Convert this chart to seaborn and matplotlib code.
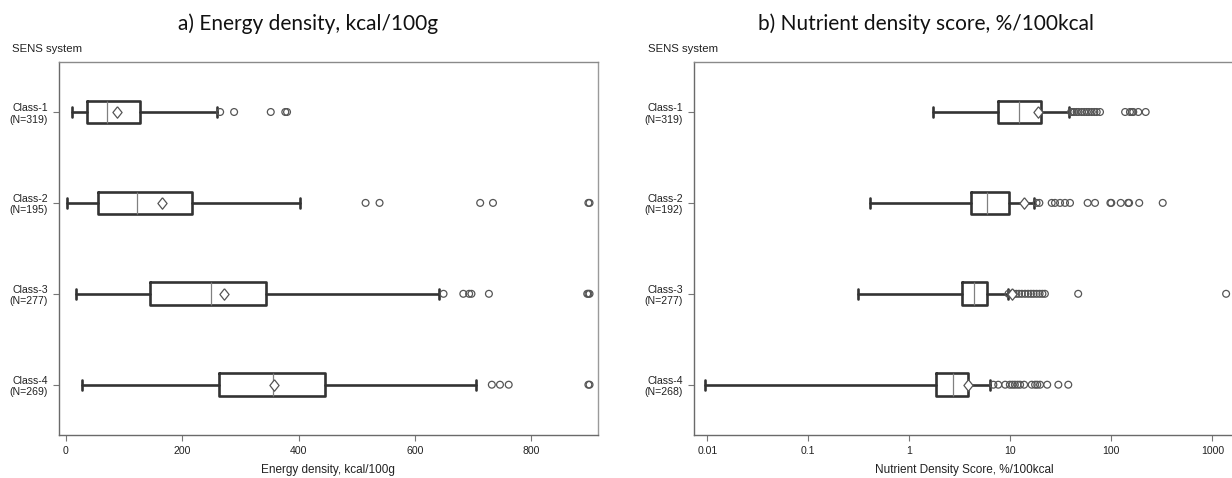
import numpy as np
import pandas as pd
import matplotlib
matplotlib.use("Agg")
import matplotlib.pyplot as plt
import seaborn as sns
from matplotlib.ticker import FixedLocator, NullLocator, FixedFormatter

# ---------------- data ----------------
classes = ["Class-1", "Class-2", "Class-3", "Class-4"]
n_energy = [319, 195, 277, 269]
n_nutrient = [319, 192, 277, 268]

# a) Energy density, kcal/100g
ed_whislo = [11, 1, 18, 27]
ed_q1 = [36, 55, 145, 263]
ed_med = [71, 122, 250, 355]
ed_q3 = [128, 217, 344, 445]
ed_whishi = [259, 402, 642, 705]
ed_mean = [88, 165, 271, 357]
ed_out_c1 = [265, 289, 352, 377, 380]
ed_out_c2 = [515, 539, 712, 734, 898, 900]
ed_out_c3 = [649, 683, 693, 697, 727, 896, 898, 900]
ed_out_c4 = [732, 746, 761, 898, 900]

# b) Nutrient density score, %/100kcal
nd_whislo = [1.7, 0.41, 0.31, 0.0095]
nd_q1 = [7.5, 4.1, 3.3, 1.85]
nd_med = [12.3, 5.9, 4.4, 2.7]
nd_q3 = [20.2, 9.8, 5.9, 3.8]
nd_whishi = [38, 17.2, 9.4, 6.3]
nd_mean = [19, 13.7, 10.4, 3.8]
nd_out_c1 = [40, 41.5, 43, 45.4, 47.5, 50.9, 54, 57.1, 60, 64, 68, 71.7, 77.3,
             137, 153, 160, 165, 185, 219]
nd_out_c2 = [18.2, 19.4, 25.7, 27.7, 31.1, 34.8, 39, 58.3, 69, 98, 100,
             124, 147, 150, 189, 323]
nd_out_c3 = [9.6, 10.2, 10.8, 11.5, 12.2, 13.0, 14.0, 15.0, 16.0, 17.0, 18.2,
             19.5, 20.8, 22.0, 47, 1370]
nd_out_c4 = [6.8, 7.6, 8.9, 9.9, 10.5, 11.1, 11.8, 12.5, 13.7, 16.3, 17.6, 18.5,
             19.7, 23.2, 29.9, 37.5]

ed_ticks = [0, 200, 400, 600, 800]
nd_ticks = [0.01, 0.1, 1, 10, 100, 1000]
nd_ticklabels = ["0.01", "0.1", "1", "10", "100", "1000"]

# ---------------- style ----------------
sns.set_theme(style="ticks")
plt.rcParams["font.family"] = ["Liberation Sans", "DejaVu Sans"]

W, H = 1232, 478
fig = plt.figure(figsize=(W / 100, H / 100), dpi=100)

BOX_C = "#333333"
MED_C = "#808080"
FL_C = "#555555"
FRAME_C = "#6a6a6a"
DIAMOND = [(0, 1), (0.8, 0), (0, -1), (-0.8, 0), (0, 1)]


def px_axes(l, r, t, b):
    return [l / W, 1 - b / H, (r - l) / W, (b - t) / H]


def draw_panel(ax, whislo, q1, med, q3, whishi, means, outs, ns):
    stats = []
    for i in range(len(classes)):
        stats.append(dict(med=med[i], q1=q1[i], q3=q3[i], whislo=whislo[i],
                          whishi=whishi[i], fliers=[], mean=means[i]))
    ax.bxp(stats, positions=list(range(len(classes))), widths=0.25,
           capwidths=0.11, orientation="horizontal",
           showfliers=False, showmeans=False,
           boxprops=dict(color=BOX_C, linewidth=1.9),
           whiskerprops=dict(color=BOX_C, linewidth=1.9),
           capprops=dict(color=BOX_C, linewidth=1.9),
           medianprops=dict(color=MED_C, linewidth=0.9))
    vals, pos = [], []
    for i, o in enumerate(outs):
        vals += list(o)
        pos += [i] * len(o)
    df = pd.DataFrame({"value": vals, "pos": pos})
    sns.scatterplot(data=df, x="value", y="pos", marker="o", s=24,
                    facecolor="none", edgecolor=FL_C, linewidth=0.9,
                    ax=ax, legend=False, zorder=4)
    dm = pd.DataFrame({"value": means, "pos": list(range(len(classes)))})
    sns.scatterplot(data=dm, x="value", y="pos", marker=DIAMOND, s=68,
                    facecolor="white", edgecolor=FL_C, linewidth=0.9,
                    ax=ax, legend=False, zorder=5)
    ax.set_ylim(3.55, -0.55)
    ax.yaxis.set_major_locator(FixedLocator(list(range(len(classes)))))
    ax.set_yticklabels([f"{c}\n(N={n})" for c, n in zip(classes, ns)],
                       fontsize=7.6, color="#222222")
    ax.set_ylabel("")
    for s in ax.spines.values():
        s.set_visible(True)
        s.set_color(FRAME_C)
        s.set_linewidth(1.0)
    ax.spines["top"].set_color("#8a8a8a")
    ax.spines["right"].set_color("#9a9a9a")
    ax.tick_params(axis="both", which="major", length=4, width=0.8,
                   color="#777777", labelsize=7.6, labelcolor="#222222", pad=4)
    ax.tick_params(axis="both", which="minor", length=0)


# ---------- panel a ----------
ax1 = fig.add_axes(px_axes(59, 597.7, 62, 434.7))
draw_panel(ax1, ed_whislo, ed_q1, ed_med, ed_q3, ed_whishi, ed_mean,
           [ed_out_c1, ed_out_c2, ed_out_c3, ed_out_c4], n_energy)
ax1.set_xlim(-12, 914)
ax1.xaxis.set_major_locator(FixedLocator(ed_ticks))
ax1.set_xticklabels([str(t) for t in ed_ticks])
ax1.set_xlabel("Energy density, kcal/100g", fontsize=8.5, color="#222222",
               labelpad=6)

# ---------- panel b ----------
ax2 = fig.add_axes(px_axes(694.3, 1234, 62, 434.7))
draw_panel(ax2, nd_whislo, nd_q1, nd_med, nd_q3, nd_whishi, nd_mean,
           [nd_out_c1, nd_out_c2, nd_out_c3, nd_out_c4], n_nutrient)
ax2.set_xscale("log")
ax2.set_xlim(10 ** (-2 - 13 / 101), 10 ** (-2 + (1234 - 707.3) / 101))
ax2.xaxis.set_major_locator(FixedLocator(nd_ticks))
ax2.xaxis.set_major_formatter(FixedFormatter(nd_ticklabels))
ax2.xaxis.set_minor_locator(NullLocator())
ax2.set_xlabel("Nutrient Density Score, %/100kcal", fontsize=8.5,
               color="#222222", labelpad=6)

# ---------- titles & notes ----------
fig.text(308 / W, 1 - 24 / H, "a) Energy density, kcal/100g", ha="center",
         va="center", fontsize=15, family=["Lato", "DejaVu Sans"], color="#111111")
fig.text(926 / W, 1 - 24 / H, "b) Nutrient density score, %/100kcal",
         ha="center", va="center", fontsize=15, family=["Lato", "DejaVu Sans"],
         color="#111111")
fig.text(12 / W, 1 - 49 / H, "SENS system", ha="left", va="center",
         fontsize=8.2, color="#222222")
fig.text(648 / W, 1 - 49 / H, "SENS system", ha="left", va="center",
         fontsize=8.2, color="#222222")

fig.savefig("out.png", dpi=100)
